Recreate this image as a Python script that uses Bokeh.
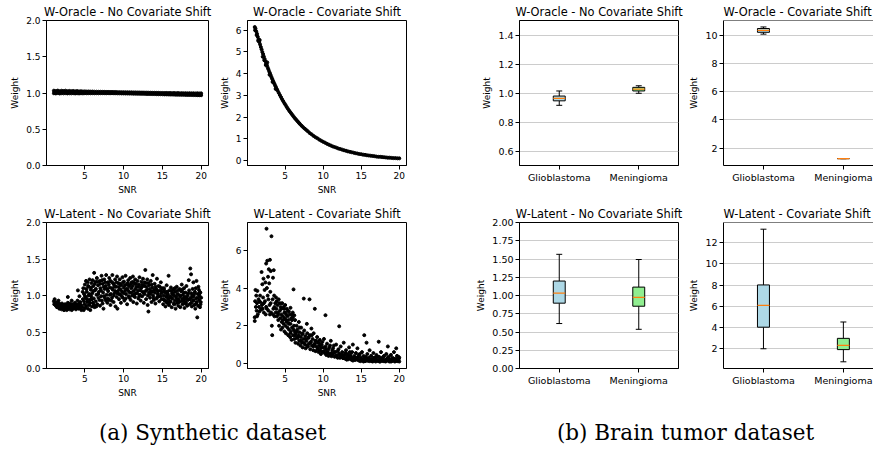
from bokeh.plotting import figure
from bokeh.layouts import row, column
from bokeh.models import Range1d, FixedTicker, PrintfTickFormatter, Div, Span
from bokeh.embed import file_html
from bokeh.resources import INLINE

# ---------------- data: (a) synthetic dataset ----------------
a1_snr = [1.0,1.25,1.5,1.75,2.0,2.25,2.5,2.75,3.0,3.25,3.5,3.75,4.0,4.25,4.5,4.75,5.0,5.25,5.5,5.75,
          6.0,6.25,6.5,6.75,7.0,7.25,7.5,7.75,8.0,8.25,8.5,8.75,9.0,9.25,9.5,9.75,10.0,10.25,10.5,10.75,
          11.0,11.25,11.5,11.75,12.0,12.25,12.5,12.75,13.0,13.25,13.5,13.75,14.0,14.25,14.5,14.75,15.0,
          15.25,15.5,15.75,16.0,16.25,16.5,16.75,17.0,17.25,17.5,17.75,18.0,18.25,18.5,18.75,19.0,19.25,
          19.5,19.75,20.0]
a1_w_hi = [1.032,1.026,1.033,1.025,1.031,1.027,1.032,1.024,1.029,1.025,1.028,1.023,1.026,1.022,1.024,
           1.021,1.022,1.020,1.021,1.019,1.020,1.018,1.018,1.017,1.017,1.016,1.016,1.015,1.015,1.014,
           1.014,1.013,1.013,1.012,1.012,1.011,1.011,1.010,1.010,1.009,1.009,1.008,1.008,1.007,1.007,
           1.006,1.006,1.005,1.005,1.004,1.004,1.003,1.003,1.002,1.002,1.001,1.001,1.000,1.001,0.999,
           1.000,0.998,0.999,0.997,0.999,0.996,0.998,0.996,0.997,0.995,0.997,0.995,0.996,0.994,0.996,
           0.994,0.995]
a1_w_lo = [0.996,0.994,0.999,0.993,0.997,0.995,0.998,0.994,0.996,0.995,0.997,0.994,0.996,0.994,0.996,
           0.995,0.997,0.996,0.997,0.996,0.997,0.996,0.997,0.996,0.997,0.997,0.997,0.996,0.997,0.996,
           0.997,0.996,0.996,0.995,0.995,0.994,0.994,0.993,0.993,0.992,0.992,0.991,0.991,0.990,0.990,
           0.989,0.989,0.988,0.987,0.987,0.986,0.985,0.985,0.984,0.983,0.983,0.982,0.981,0.981,0.980,
           0.979,0.979,0.978,0.977,0.977,0.976,0.975,0.975,0.974,0.973,0.973,0.972,0.971,0.971,0.970,
           0.969,0.969]

a2_points = [
    (1.0,6.15),(1.05,6.0),(1.1,6.08),(1.2,5.95),(1.25,5.78),(1.3,5.84),(1.4,5.70),(1.45,5.52),(1.5,5.59),
    (1.6,5.46),(1.65,5.55),(1.7,5.35),(1.8,5.23),(1.9,5.12),(2.0,5.00),(2.05,4.78),(2.1,4.90),(2.2,4.79),
    (2.25,4.62),(2.3,4.68),(2.4,4.58),(2.45,4.40),(2.5,4.48),(2.6,4.39),(2.65,4.52),(2.7,4.29),(2.8,4.20),
    (2.9,4.10),(2.95,3.95),(3.0,4.02),(3.1,3.93),(3.2,3.84),(3.3,3.76),(3.35,3.62),(3.4,3.68),(3.5,3.60),
    (3.6,3.52),(3.7,3.44),(3.75,3.30),(3.8,3.37),(3.9,3.29),(4.0,3.22),(4.15,3.12),(4.3,3.02),(4.45,2.92),
    (4.6,2.82),(4.75,2.73),(4.9,2.64),(5.05,2.56),(5.2,2.47),(5.35,2.39),(5.5,2.31),(5.65,2.24),(5.8,2.17),
    (5.95,2.10),(6.1,2.03),(6.25,1.96),(6.4,1.90),(6.55,1.84),(6.7,1.78),(6.85,1.72),(7.0,1.66),(7.2,1.59),
    (7.4,1.52),(7.6,1.46),(7.8,1.40),(8.0,1.34),(8.25,1.26),(8.5,1.20),(8.75,1.13),(9.0,1.07),(9.25,1.02),
    (9.5,0.96),(9.75,0.91),(10.0,0.86),(10.25,0.82),(10.5,0.77),(10.75,0.73),(11.0,0.69),(11.25,0.65),
    (11.5,0.62),(11.75,0.59),(12.0,0.55),(12.25,0.53),(12.5,0.50),(12.75,0.47),(13.0,0.45),(13.25,0.42),
    (13.5,0.40),(13.75,0.38),(14.0,0.36),(14.25,0.34),(14.5,0.32),(14.75,0.30),(15.0,0.29),(15.25,0.27),
    (15.5,0.26),(15.75,0.24),(16.0,0.23),(16.25,0.22),(16.5,0.21),(16.75,0.20),(17.0,0.18),(17.25,0.17),
    (17.5,0.17),(17.75,0.16),(18.0,0.15),(18.25,0.14),(18.5,0.13),(18.75,0.13),(19.0,0.12),(19.25,0.11),
    (19.5,0.11),(19.75,0.10),(20.0,0.10)]

a3_points = [
    (1.0,0.92),(1.05,0.88),(1.1,0.95),(1.2,0.90),(1.25,0.86),(1.3,0.89),(1.4,0.84),(1.45,0.91),(1.5,0.87),
    (1.6,0.85),(1.65,0.89),(1.7,0.82),(1.8,0.88),(1.85,0.84),(1.9,0.86),(2.0,0.81),(2.05,0.89),(2.1,0.85),
    (2.2,0.83),(2.25,0.87),(2.3,0.80),(2.4,0.85),(2.45,0.88),(2.5,0.82),(2.6,0.86),(2.65,0.80),(2.7,0.84),
    (2.8,0.90),(2.85,0.83),(2.9,0.87),(3.0,0.81),(3.05,0.85),(3.1,0.89),(3.2,0.82),(3.25,0.86),(3.3,0.80),
    (3.4,0.88),(3.45,0.84),(3.5,0.82),(3.6,0.87),(3.65,0.83),(3.7,0.90),(3.8,0.85),(3.85,0.81),(3.9,0.88),
    (4.0,0.84),(4.05,0.93),(4.1,0.86),(4.2,0.82),(4.25,0.89),(4.3,0.85),(4.4,0.91),(4.45,0.83),(4.5,0.87),
    (4.55,0.80),(2.8,0.98),(4.1,1.07),(4.3,0.99),(3.3,0.93),(1.6,0.93),
    (4.7,0.84),(4.75,0.95),(4.8,1.10),(4.85,0.80),(4.9,1.02),(4.95,0.88),(5.0,1.15),(5.05,0.83),(5.1,0.97),
    (5.15,1.20),(5.2,0.86),(5.25,1.05),(5.3,0.91),(5.35,1.18),(5.4,0.82),(5.45,1.00),(5.5,1.12),(5.55,0.87),
    (5.6,1.22),(5.65,0.94),(5.7,0.80),(5.75,1.08),(5.8,0.99),(5.85,1.17),(5.9,0.85),(5.95,1.03),(6.0,1.21),
    (6.05,0.90),(6.1,1.13),(6.15,0.96),(6.2,1.31),(6.25,0.84),(6.3,1.07),(6.35,1.19),(6.4,0.92),(6.5,1.01),
    (6.55,1.24),(6.6,0.88),(6.7,1.14),(6.75,0.97),(6.8,1.05),(6.9,1.20),(6.95,0.86),(7.0,1.10),(7.1,0.99),
    (7.15,1.27),(7.2,0.93),(7.3,1.16),(7.35,1.04),(7.4,0.82),(7.5,1.22),(7.55,1.09),(7.6,0.96),(7.7,1.13),
    (7.75,1.28),(7.8,1.01),(7.9,0.90),(7.95,1.18),(8.0,1.06),(8.1,0.94),(8.15,1.24),(8.2,1.11),(8.3,0.87),
    (8.35,1.02),(8.4,1.19),(8.5,0.97),(8.55,1.28),(8.6,1.08),(8.7,0.91),(8.75,1.15),(8.8,1.03),(8.9,1.22),
    (8.95,0.85),(9.0,1.12),(9.1,0.98),(9.15,1.26),(9.2,0.82),(9.25,1.06),
    (9.3,1.17),(9.4,0.95),(9.45,1.09),(9.5,1.22),(9.6,1.01),(9.65,0.90),(9.7,1.14),(9.8,1.05),(9.85,1.25),
    (9.9,0.97),(10.0,1.11),(10.05,1.19),(10.1,0.93),(10.2,1.07),(10.25,1.27),(10.3,1.02),(10.4,1.15),
    (10.45,0.88),(10.5,1.09),(10.6,1.21),(10.65,0.99),(10.7,1.13),(10.8,1.04),(10.85,1.24),(10.9,0.94),
    (11.0,1.10),(11.05,1.18),(11.1,1.00),(11.2,1.26),(11.25,0.91),(11.3,1.06),(11.4,1.16),(11.45,0.98),
    (11.5,1.22),(11.6,1.03),(11.65,1.12),(11.7,0.89),(11.8,1.20),(11.85,1.07),(11.9,0.96),(12.0,1.15),
    (12.05,1.25),(12.1,1.01),(12.2,0.93),(12.25,1.10),(12.3,1.19),(12.4,0.99),(12.45,1.05),(12.5,1.23),
    (12.6,0.90),(12.65,1.13),(12.7,1.02),(12.8,1.35),(12.85,1.17),(12.9,0.95),(13.0,1.08),(13.05,1.22),
    (13.1,0.87),(13.2,0.78),(13.25,1.04),(13.3,1.14),(13.4,0.97),(13.5,1.20),(13.55,1.06),(13.6,0.91),
    (13.7,1.11),(13.75,1.28),(13.8,1.00),(13.9,0.94),(14.0,1.16),(14.05,1.04),(14.1,0.89),(14.2,1.09),
    (14.3,1.23),(14.35,0.98),(14.4,1.02),(14.5,1.13),(14.6,0.92),(14.7,1.07),(14.75,0.99),(14.8,1.18),
    (14.9,0.95),(15.0,1.05),
    (15.1,0.88),(15.15,1.00),(15.2,1.10),(15.3,0.93),(15.35,1.04),(15.4,0.85),(15.5,0.98),(15.55,1.14),
    (15.6,0.90),(15.7,1.02),(15.75,0.95),(15.8,1.27),(15.85,0.87),(15.9,1.07),(16.0,0.99),(16.05,0.92),
    (16.1,1.11),(16.2,0.84),(16.25,1.03),(16.3,0.96),(16.4,1.08),(16.45,0.89),(16.5,1.00),(16.6,0.93),
    (16.65,1.05),(16.7,0.82),(16.8,0.97),(16.85,1.12),(16.9,0.90),(17.0,1.02),(17.05,0.86),(17.1,0.95),
    (17.2,1.09),(17.25,0.99),(17.3,0.84),(17.4,1.06),(17.45,0.92),(17.5,1.15),(17.6,0.88),(17.65,1.01),
    (17.7,0.95),(17.8,1.10),(17.85,0.83),(17.9,0.98),(18.0,1.04),(18.05,0.90),(18.1,1.13),(18.2,0.86),
    (18.25,1.00),(18.3,0.94),(18.4,1.21),(18.45,1.07),(18.5,0.88),(18.6,1.37),(18.65,0.97),(18.7,1.29),
    (18.75,1.03),(18.8,0.85),(18.9,1.09),(18.95,0.93),(19.0,1.18),(19.05,1.00),(19.1,0.87),(19.2,1.05),
    (19.25,0.82),(19.3,0.96),(19.4,1.20),(19.45,0.91),(19.5,0.70),(19.55,1.02),(19.6,0.86),(19.7,1.08),
    (19.75,0.94),(19.8,0.99),(19.85,0.84),(19.9,1.04),(19.95,0.91),(20.0,0.97)]

a3_points_more = [
    (4.72,1.05),(4.88,0.92),(5.02,0.99),(5.18,1.09),(5.28,0.95),(5.42,1.13),(5.58,1.02),(5.68,0.90),
    (5.82,1.11),(5.92,0.95),(6.08,1.06),(6.18,0.87),(6.28,1.16),(6.42,1.09),(6.48,0.85),(6.62,1.19),
    (6.72,1.02),(6.88,0.94),(6.98,1.16),(7.08,1.07),(7.22,1.21),(7.28,0.89),(7.42,1.12),(7.48,0.99),
    (7.62,1.18),(7.72,0.93),(7.88,1.09),(7.98,0.96),(8.08,1.15),(8.22,1.01),(8.28,1.20),(8.42,0.93),
    (8.48,1.10),(8.62,1.17),(8.72,1.00),(8.82,1.12),(8.92,1.06),(9.08,1.18),(9.18,1.03),(9.35,1.12),
    (9.42,1.02),(9.55,1.16),(9.62,1.08),(9.75,0.99),(9.92,1.18),(10.02,1.03),(10.15,1.14),(10.28,0.96),
    (10.35,1.09),(10.52,1.17),(10.62,1.06),(10.75,0.97),(10.92,1.16),(11.02,1.04),(11.15,1.13),
    (11.28,1.19),(11.35,1.01),(11.52,1.09),(11.62,1.16),(11.75,1.03),(11.92,1.12),(12.02,0.99),
    (12.15,1.07),(12.32,1.12),(12.42,1.15),(12.55,1.04),(12.72,1.18),(12.82,1.06),(12.95,1.12),
    (13.12,1.00),(13.18,1.17),(13.35,1.09),(13.45,1.02),(13.62,1.15),(13.72,1.05),(13.85,0.97),
    (13.95,1.08),(14.12,1.12),(14.25,0.96),(14.42,1.06),(14.55,0.99),(14.65,1.12),(14.85,1.03),
    (14.95,1.10),(15.12,0.95),(15.25,1.07),(15.45,0.92),(15.62,1.05),(15.82,0.97),(15.95,0.91),
    (16.15,0.97),(16.35,1.02),(16.55,0.88),(16.75,0.99),(16.95,1.07),(17.15,0.91),(17.35,1.00),
    (17.55,0.96),(17.75,1.04),(17.95,0.89),(18.15,0.97),(18.35,1.03),(18.55,0.95),(18.72,0.90),
    (18.85,1.00),(19.02,0.93),(19.15,1.03),(19.35,0.89),(19.52,0.97),(19.65,1.12),(19.82,1.05),
    (19.92,0.88),(16.2,1.06),(17.0,0.94),(17.8,0.92),(18.9,0.98),(19.3,1.10),(15.6,1.01),(16.6,1.10),
    (17.55,1.08),(18.1,0.95),(19.75,1.02)]

a4_points = [
    (1.0,2.25),(1.0,2.45),(1.05,3.3),(1.1,3.9),(1.15,3.0),(1.2,3.6),(1.25,2.8),(1.3,3.2),(1.35,3.85),
    (1.4,2.6),(1.5,3.4),(1.55,3.0),(1.6,2.75),(1.7,3.6),(1.75,3.25),(1.8,2.85),(1.9,4.85),(1.95,3.1),
    (2.0,4.2),(2.05,2.9),(2.1,3.5),(2.15,4.5),(2.2,2.7),(2.3,3.9),(2.35,3.3),(2.4,4.3),(2.45,2.6),
    (2.5,5.3),(2.55,7.15),(2.6,4.0),(2.65,5.45),(2.7,3.6),(2.75,4.6),(2.8,2.8),(2.85,5.0),(2.9,4.25),
    (2.95,3.1),(3.0,5.5),(3.05,3.8),(3.1,4.9),(3.15,2.7),(3.2,6.75),(3.25,2.0),(3.3,1.5),(3.35,3.4),
    (3.4,4.55),(3.45,2.9),(3.5,4.95),(3.55,3.6),(3.6,2.5),(3.7,3.2),(3.75,2.7),(3.8,3.5),(3.85,2.9),
    (3.9,2.5),(4.0,3.1),(4.05,2.7),(4.1,2.3),(4.15,3.4),(4.2,2.0),(4.3,2.8),(4.35,2.4),(4.4,3.0),
    (4.45,1.8),(4.5,2.6),(4.55,2.2),(4.6,3.2),(4.65,1.9),(4.7,2.5),(4.8,2.1),(4.85,2.9),(4.9,1.7),
    (4.95,2.4),(5.0,3.1),(5.05,2.0),(5.1,1.6),(5.15,2.6),(5.2,2.2),(5.3,1.9),(5.35,2.8),(5.4,1.5),
    (5.45,2.3),(5.5,1.8),(5.6,2.6),(5.65,1.4),(5.7,2.1),(5.75,1.7),(5.8,2.4),(5.85,1.25),(5.9,1.9),
    (6.0,2.7),(6.05,1.5),(6.1,3.93),(6.15,2.0),(6.2,1.3),(6.25,1.7),(6.3,2.3),(6.35,1.1),(6.4,1.6),
    (6.5,2.0),(6.55,1.35),(6.6,1.8),(6.7,1.05),(6.75,1.5),(6.8,2.2),(6.85,1.2),(6.9,1.65),(7.0,0.95),
    (7.05,1.4),(7.1,1.9),(7.2,1.1),(7.25,1.55),(7.3,0.85),(7.4,1.3),(7.45,3.44),(7.5,1.75),(7.6,1.0),
    (7.65,1.45),(7.7,0.8),(7.8,1.2),(7.85,2.1),(7.9,1.6),(8.0,0.9),(8.05,1.35),(8.1,1.05),(8.2,3.4),
    (8.25,1.5),(8.3,0.75),(8.4,1.15),(8.45,1.85),(8.5,0.95),(8.6,1.3),(8.7,0.7),(8.75,1.6),(8.8,1.0),
    (8.9,2.9),(8.95,1.2),(9.0,0.65),(9.1,0.9),(9.2,1.4),(9.25,0.75),(9.3,1.1),(9.4,0.6),(9.5,0.95),
    (9.55,1.25),(9.6,0.7),(9.7,0.5),(9.8,1.0),(9.9,0.62),(10.0,0.85),(10.1,1.3),(10.2,0.55),(10.3,2.56),
    (10.35,0.75),(10.4,0.45),(10.5,1.05),(10.6,0.6),(10.7,0.4),(10.8,0.85),(10.9,0.5),(11.0,1.2),
    (11.1,0.38),(11.2,0.7),(11.3,0.48),(11.4,0.95),(11.5,0.35),(11.6,0.6),(11.7,1.0),(11.8,0.42),
    (11.9,0.3),(12.0,0.75),(12.1,1.97),(12.15,0.5),(12.2,0.3),(12.3,0.9),(12.4,0.4),(12.5,0.6),
    (12.6,0.28),(12.7,1.1),(12.8,0.45),(12.9,0.25),(13.0,0.7),(13.1,0.35),(13.2,0.5),(13.3,0.22),
    (13.4,0.85),(13.5,0.3),(13.6,0.45),(13.7,0.2),(13.8,0.6),(13.9,1.0),(14.0,0.28),(14.1,0.4),
    (14.2,0.18),(14.3,0.55),(14.4,0.25),(14.5,0.8),(14.6,0.35),(14.7,0.15),(14.8,0.5),(14.9,0.22),
    (15.0,0.3),(15.1,0.6),(15.2,0.16),(15.3,0.4),(15.4,1.5),(15.45,0.25),(15.5,0.12),(15.6,0.35),
    (15.7,1.1),(15.75,0.2),(15.8,0.5),(15.9,0.14),(16.0,0.3),(16.1,0.7),(16.2,0.18),(16.3,0.4),
    (16.4,0.12),(16.5,0.25),(16.6,0.55),(16.7,0.15),(16.8,0.3),(16.9,0.1),(17.0,0.45),(17.1,0.2),
    (17.2,0.13),(17.3,1.15),(17.35,0.35),(17.4,0.1),(17.5,0.25),(17.6,0.6),(17.7,0.15),(17.8,0.3),
    (17.9,0.12),(18.0,0.4),(18.1,0.2),(18.2,0.1),(18.3,0.5),(18.4,0.25),(18.5,0.9),(18.55,0.14),
    (18.6,0.35),(18.7,0.1),(18.8,0.2),(18.9,0.45),(19.0,0.12),(19.1,0.3),(19.2,0.18),(19.3,0.6),
    (19.4,0.1),(19.5,0.25),(19.6,0.8),(19.65,0.15),(19.7,0.4),(19.8,0.12),(19.9,0.22),(20.0,0.1),
    (20.0,0.3),(5.2,2.9),(5.5,2.75),(5.7,2.95),(5.9,2.6),(6.0,2.45),(6.2,2.55),(4.8,3.0),(5.0,2.7)]

a4_points_more = [
    (3.6,3.0),(3.9,3.3),(4.1,2.6),(4.3,3.2),(4.5,2.9),(4.7,2.3),(4.9,2.7),(5.1,2.3),(5.3,2.5),(5.5,2.1),
    (5.7,1.6),(5.9,2.3),(6.1,1.8),(6.3,1.5),(6.5,1.7),(6.7,1.4),(6.9,1.9),(7.1,1.2),(7.3,1.6),(7.5,1.1),
    (7.7,1.3),(7.9,0.95),(8.1,1.4),(8.3,1.1),(8.5,1.5),(8.7,0.9),(8.9,1.05),(9.1,1.2),(9.3,0.8),(9.5,1.1),
    (9.7,0.85),(9.9,1.15),(10.1,0.65),(10.3,0.9),(10.5,0.55),(10.7,0.75),(10.9,0.95),(11.1,0.55),
    (11.3,0.8),(11.5,0.6),(11.7,0.4),(11.9,0.65),(12.1,0.5),(12.3,0.35),(12.5,0.45),(12.7,0.3),
    (12.9,0.55),(13.1,0.2),(13.3,0.4),(13.5,0.6),(13.7,0.33),(13.9,0.15),(14.1,0.25),(14.3,0.3),
    (14.5,0.2),(14.7,0.45),(14.9,0.12),(15.1,0.2),(15.3,0.1),(15.5,0.3),(15.7,0.15),(15.9,0.25),
    (16.1,0.12),(16.3,0.2),(16.5,0.1),(16.7,0.3),(16.9,0.2),(17.1,0.35),(17.3,0.15),(17.5,0.1),
    (17.7,0.22),(17.9,0.35),(18.1,0.12),(18.3,0.15),(18.5,0.3),(18.7,0.22),(18.9,0.1),(19.1,0.15),
    (19.3,0.25),(19.5,0.12),(19.7,0.2),(19.9,0.35),(1.3,2.5),(1.6,3.3),(1.9,2.9),(2.2,3.2),(2.5,3.0),
    (2.8,3.4),(3.1,3.2),(3.4,2.6),(2.6,2.9),(3.0,2.6)]

# ---------------- data: (b) brain tumor dataset (box plot statistics) ----------------
b_cats = ["Glioblastoma", "Meningioma"]
b_colors = ["#add8e6", "#90ee90"]
b1_low = [0.915, 0.998]; b1_q1 = [0.946, 1.014]; b1_med = [0.963, 1.027]; b1_q3 = [0.979, 1.039]; b1_high = [1.014, 1.050]
b2_low = [10.11, 1.25]; b2_q1 = [10.24, 1.25]; b2_med = [10.38, 1.25]; b2_q3 = [10.51, 1.25]; b2_high = [10.62, 1.25]
b3_low = [0.616, 0.537]; b3_q1 = [0.895, 0.853]; b3_med = [1.032, 0.974]; b3_q3 = [1.198, 1.115]; b3_high = [1.564, 1.493]
b4_low = [2.0, 0.77]; b4_q1 = [4.03, 1.92]; b4_med = [6.09, 2.32]; b4_q3 = [8.01, 2.98]; b4_high = [13.26, 4.52]

FONT = "DejaVu Sans"


def make_fig(w, h, bl, br, bt, bb, xr, yr, title, align="center", offset=0, tick_size="9px"):
    p = figure(width=w, height=h, min_border_left=bl, min_border_right=br,
               min_border_top=bt, min_border_bottom=bb,
               x_range=Range1d(*xr), y_range=Range1d(*yr),
               output_backend="svg", toolbar_location=None, tools="")
    p.title.text = title
    p.title.align = align
    p.title.offset = offset
    p.title.standoff = 4
    p.title.text_font = FONT
    p.title.text_font_size = "11.4px"
    p.title.text_font_style = "normal"
    p.title.text_color = "black"
    p.outline_line_color = "black"
    p.outline_line_width = 1
    p.background_fill_color = "white"
    p.border_fill_color = "white"
    for ax in (p.xaxis[0], p.yaxis[0]):
        ax.major_tick_out = 4
        ax.major_tick_in = 0
        ax.minor_tick_out = 0
        ax.minor_tick_in = 0
        ax.axis_line_color = "black"
        ax.major_tick_line_color = "black"
        ax.major_label_text_font = FONT
        ax.major_label_text_font_size = tick_size
        ax.major_label_text_color = "black"
        ax.major_label_standoff = 2
        ax.axis_label_text_font = FONT
        ax.axis_label_text_font_size = "9px"
        ax.axis_label_text_font_style = "normal"
        ax.axis_label_text_color = "black"
        ax.axis_label_standoff = 3
    p.yaxis.axis_label = "Weight"
    return p


def scatter_panel(w, h, bl, br, bt, bb, yr, yticks, yfmt, title, xs_list, ys_list):
    p = make_fig(w, h, bl, br, bt, bb, (0.05, 20.95), yr, title)
    p.xgrid.visible = False
    p.ygrid.visible = False
    p.xaxis.ticker = FixedTicker(ticks=[5, 10, 15, 20])
    p.yaxis.ticker = FixedTicker(ticks=yticks)
    if yfmt:
        p.yaxis.formatter = PrintfTickFormatter(format=yfmt)
    p.xaxis.axis_label = "SNR"
    for xs, ys in zip(xs_list, ys_list):
        p.scatter(list(xs), list(ys), size=3, color="black", marker="circle")
    return p


def box_panel(w, h, bl, br, bt, bb, xr, yr, yticks, yfmt, title, stats, open_right=False,
              align="center", offset=0):
    low, q1, med, q3, high = stats
    p = make_fig(w, h, bl, br, bt, bb, xr, yr, title, align=align, offset=offset, tick_size="9.5px")
    p.xgrid.visible = False
    p.ygrid.grid_line_color = "#cccccc"
    p.ygrid.grid_line_width = 1
    p.ygrid.ticker = FixedTicker(ticks=yticks)
    pos = [i + 1 for i in range(len(b_cats))]
    p.xaxis.ticker = FixedTicker(ticks=pos)
    p.xaxis.major_label_overrides = {pp: c for pp, c in zip(pos, b_cats)}
    p.yaxis.ticker = FixedTicker(ticks=yticks)
    if yfmt:
        p.yaxis.formatter = PrintfTickFormatter(format=yfmt)
    bw = 0.15
    cap = bw / 2
    p.segment(pos, q3, pos, high, line_color="black", line_width=1)
    p.segment(pos, q1, pos, low, line_color="black", line_width=1)
    p.segment([x - cap / 2 for x in pos], high, [x + cap / 2 for x in pos], high, line_color="black", line_width=1)
    p.segment([x - cap / 2 for x in pos], low, [x + cap / 2 for x in pos], low, line_color="black", line_width=1)
    p.vbar(x=pos, width=bw, bottom=q1, top=q3, fill_color=b_colors, line_color="black", line_width=1)
    p.segment([x - bw / 2 for x in pos], med, [x + bw / 2 for x in pos], med, line_color="#ff7f0e", line_width=1.3)
    if open_right:
        p.outline_line_color = None
        p.add_layout(Span(location=yr[1], dimension="width", line_color="black", line_width=1))
    return p


a1 = scatter_panel(216, 200, 46, 8, 18, 35, (0, 2.0), [0, 0.5, 1.0, 1.5, 2.0], "%.1f",
                   "W-Oracle - No Covariate Shift", [a1_snr, a1_snr], [a1_w_hi, a1_w_lo])
a2x, a2y = zip(*a2_points)
a2 = scatter_panel(224, 200, 29, 34, 18, 35, (-0.23, 6.45), [0, 1, 2, 3, 4, 5, 6], None,
                   "W-Oracle - Covariate Shift", [a2x], [a2y])
a3x, a3y = zip(*(a3_points + a3_points_more))
a3 = scatter_panel(216, 200, 46, 8, 22, 32, (0, 2.0), [0, 0.5, 1.0, 1.5, 2.0], "%.1f",
                   "W-Latent - No Covariate Shift", [a3x], [a3y])
a4x, a4y = zip(*(a4_points + a4_points_more))
a4 = scatter_panel(224, 200, 29, 34, 22, 32, (-0.27, 7.48), [0, 2, 4, 6], None,
                   "W-Latent - Covariate Shift", [a4x], [a4y])

b1 = box_panel(246, 200, 79, 8, 18, 20, (0.5, 2.5), (0.5, 1.5), [0.6, 0.8, 1.0, 1.2, 1.4], "%.1f",
               "W-Oracle - No Covariate Shift", (b1_low, b1_q1, b1_med, b1_q3, b1_high))
b2 = box_panel(187, 200, 35, 0, 18, 20, (0.5, 2.377), (0.76, 11.08), [2, 4, 6, 8, 10], None,
               "W-Oracle - Covariate Shift", (b2_low, b2_q1, b2_med, b2_q3, b2_high),
               open_right=True, align="left", offset=0)
b3 = box_panel(246, 200, 79, 8, 22, 18, (0.5, 2.5), (0, 2.0),
               [0, 0.25, 0.5, 0.75, 1.0, 1.25, 1.5, 1.75, 2.0], "%.2f",
               "W-Latent - No Covariate Shift", (b3_low, b3_q1, b3_med, b3_q3, b3_high))
b4 = box_panel(187, 200, 35, 0, 22, 18, (0.5, 2.377), (0.14, 13.89), [2, 4, 6, 8, 10, 12], None,
               "W-Latent - Covariate Shift", (b4_low, b4_q1, b4_med, b4_q3, b4_high),
               open_right=True, align="left", offset=0)

cap_style = "font-family:'DejaVu Serif'; font-size:21.5px; color:#000; padding-top:18px; text-align:center; box-sizing:border-box;"
cap_a = Div(text=f'<div style="{cap_style} width:425px;">(a) Synthetic dataset</div>',
            width=440, height=50, margin=(0, 0, 0, 0))
cap_b = Div(text=f'<div style="{cap_style} width:433px; padding-left:58px;">(b) Brain tumor dataset</div>',
            width=433, height=50, margin=(0, 0, 0, 0))

layout = column(row(a1, a2, b1, b2), row(a3, a4, b3, b4), row(cap_a, cap_b),
                styles={"position": "absolute", "left": "0px", "top": "0px"})

open("out.html", "w").write(file_html(layout, INLINE))
